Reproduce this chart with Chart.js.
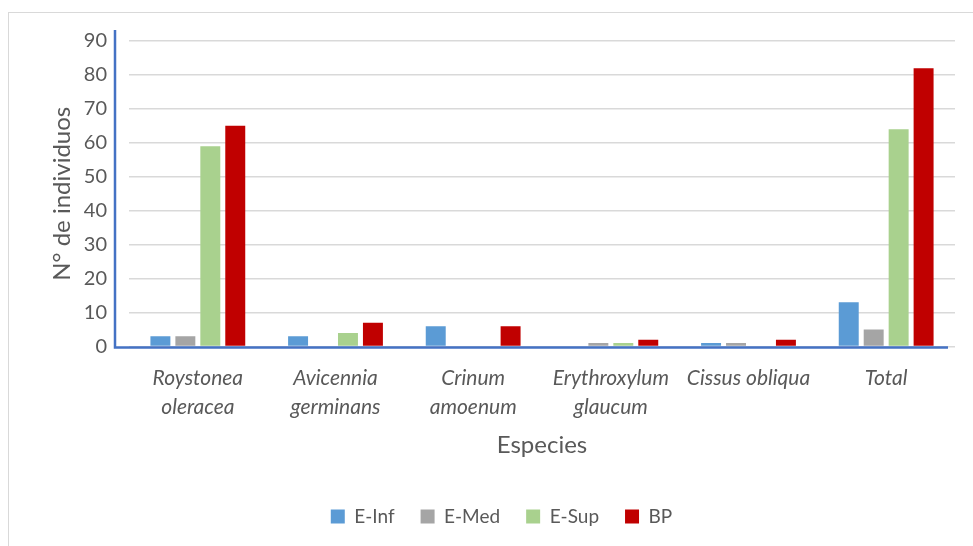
<!DOCTYPE html>
<html>
<head>
<meta charset="utf-8">
<script src="https://cdn.jsdelivr.net/npm/chart.js@4/dist/chart.umd.min.js"></script>
<style>
  html, body { margin: 0; padding: 0; background: #fff; }
  #wrap { position: relative; width: 973px; height: 546px; }
  #frame { position: absolute; left: 8px; top: 12px; right: 0; bottom: 0;
           border-top: 1px solid #d9d9d9; border-left: 1px solid #d9d9d9; }
  canvas { position: absolute; left: 0; top: 0; }
</style>
</head>
<body>
<div id="wrap">
  <div id="frame"></div>
  <canvas id="chart" width="973" height="546"></canvas>
</div>
<script>

const categories = [
    ['Roystonea', 'oleracea'],
    ['Avicennia', 'germinans'],
    ['Crinum', 'amoenum'],
    ['Erythroxylum', 'glaucum'],
    'Cissus obliqua',
    'Total'
];

const eInf = [3, 3, 6, 0, 1, 13];
const eMed = [3, 0, 0, 1, 1, 5];
const eSup = [59, 4, 0, 1, 0, 64];
const bp = [65, 7, 6, 2, 2, 82];

const textColor = '#595959';
const fontName = 'Lato, "Open Sans", sans-serif';

// blue axis lines like the office chart
const axisLines = {
    id: 'axisLines',
    afterDatasetsDraw(chart) {
        const { ctx, chartArea } = chart;
        ctx.save();
        ctx.strokeStyle = '#4472C4';
        ctx.lineWidth = 2.5;
        ctx.beginPath();
        ctx.moveTo(chartArea.left - 14, chartArea.top - 11);
        ctx.lineTo(chartArea.left - 14, chartArea.bottom + 1);
        ctx.lineTo(chartArea.right - 7, chartArea.bottom + 1);
        ctx.stroke();
        ctx.restore();
    }
};

const ctx = document.getElementById('chart').getContext('2d');

new Chart(ctx, {
    type: 'bar',
    data: {
        labels: categories,
        datasets: [
            { label: 'E-Inf', data: eInf, backgroundColor: '#5B9BD5' },
            { label: 'E-Med', data: eMed, backgroundColor: '#A5A5A5' },
            { label: 'E-Sup', data: eSup, backgroundColor: '#A9D18E' },
            { label: 'BP', data: bp, backgroundColor: '#C00000' }
        ]
    },
    options: {
        responsive: false,
        animation: false,
        devicePixelRatio: 1,
        categoryPercentage: 0.725,
        barPercentage: 0.8,
        layout: {
            padding: { left: 48, right: 18, top: 41, bottom: 10 }
        },
        plugins: {
            tooltip: { enabled: false },
            legend: {
                position: 'bottom',
                labels: {
                    boxWidth: 14,
                    boxHeight: 14,
                    padding: 26,
                    color: textColor,
                    font: { family: fontName, size: 19 }
                }
            }
        },
        scales: {
            x: {
                grid: { display: false },
                border: { display: false },
                ticks: {
                    color: textColor,
                    autoSkip: false,
                    maxRotation: 0,
                    padding: 10,
                    font: { family: fontName, size: 21, style: 'italic', lineHeight: 1.35 }
                },
                title: {
                    display: true,
                    text: 'Especies',
                    color: textColor,
                    font: { family: fontName, size: 24 },
                    padding: { top: 0, bottom: 21 }
                }
            },
            y: {
                min: 0,
                max: 90,
                afterFit(scale) { scale.width = 81; },
                ticks: {
                    stepSize: 10,
                    color: textColor,
                    padding: 22,
                    font: { family: fontName, size: 20 }
                },
                grid: { color: '#d9d9d9', lineWidth: 1.5, drawTicks: false },
                border: { display: false },
                title: {
                    display: true,
                    text: 'N° de individuos',
                    color: textColor,
                    font: { family: fontName, size: 24 },
                    padding: { top: 0, bottom: 0 }
                }
            }
        }
    },
    plugins: [axisLines]
});

</script>
</body>
</html>
